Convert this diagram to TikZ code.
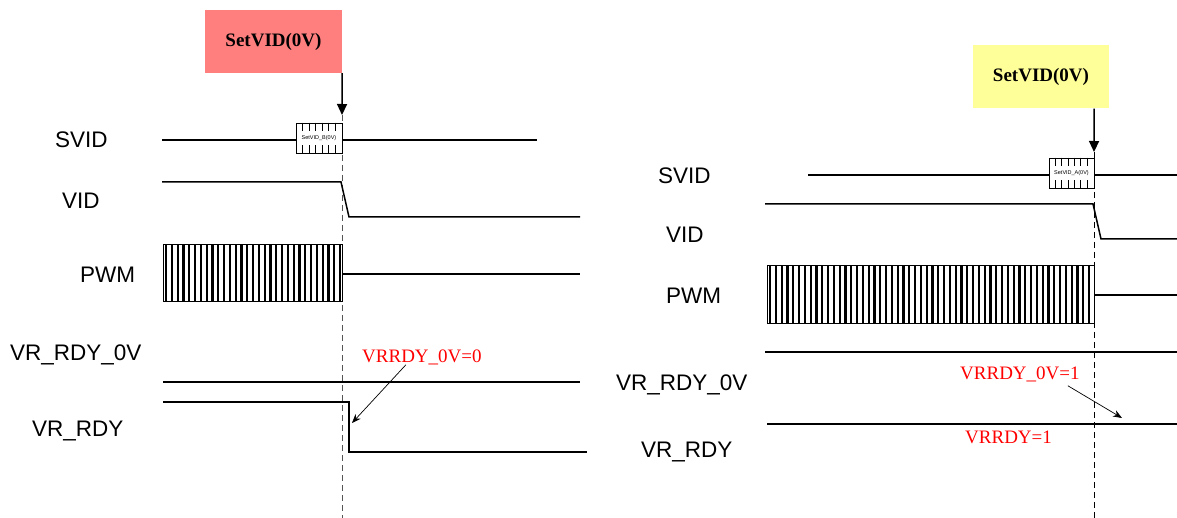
\documentclass[tikz,border=0pt]{standalone}
\usepackage{fontspec}
\setmainfont{Liberation Serif}
\setsansfont{Liberation Sans}
\usetikzlibrary{arrows.meta}
\tikzset{>={Stealth[length=9pt,width=7pt]}}
\definecolor{cmdred}{HTML}{FF7F7F}
\definecolor{cmdyellow}{HTML}{FFFF99}
\definecolor{markgray}{HTML}{555555}

\begin{document}
\begin{tikzpicture}[x=1pt,y=-1pt]

\tikzstyle{sig}=[line width=1.5pt]
\tikzstyle{siglab}=[anchor=west,inner sep=0pt,font=\sffamily\fontsize{22.5}{26}\selectfont]
\tikzstyle{note}=[anchor=west,inner sep=0pt,text=red,font=\fontsize{19}{22}\selectfont]
\tikzstyle{cmd}=[minimum height=63pt,font=\bfseries\fontsize{19}{22}\selectfont]
\tikzstyle{svidbox}=[draw,line width=0.8pt,fill=white,minimum height=30pt,inner sep=0pt,
                     font=\sffamily\fontsize{5.5}{6}\selectfont]
\tikzstyle{edge}=[line width=0.9pt,dash pattern=on 6pt off 4pt]
\tikzstyle{cmdarrow}=[line width=1.5pt,-{Triangle[length=11pt,width=10pt]}]

\useasboundingbox (0,0) rectangle (1177,518);

%% left: SetVID_B
\node[siglab] (svidB) at (55,140) {SVID};
\node[siglab] (vidB)  at (62,201) {VID};
\node[siglab] (pwmB)  at (80,275) {PWM};
\node[siglab] (rdy0B) at (10,355) {VR\_RDY\_0V};
\node[siglab] (rdyB)  at (32,431) {VR\_RDY};

\node[cmd,fill=cmdred,minimum width=137pt] (boxB) at (273.5,41.5) {SetVID(0V)};
\coordinate (markB) at (342,115);
\draw[edge,markgray] (markB) -- (342,518);
\draw[cmdarrow] (boxB.south east) -- (markB);

\draw[sig] (162,140) -- (296,140);
\draw[sig] (342,140) -- (537,140);
\node[svidbox,minimum width=46pt] (cmdB) at (319,138) {SetVID\_B(0V)};
\foreach \i in {1,...,6}{
  \draw[line width=0.6pt] ([xshift=\i*6.6pt]cmdB.north west) -- ++(0,8);
  \draw[line width=0.6pt] ([xshift=\i*6.6pt]cmdB.south west) -- ++(0,-8);
}

\draw[sig] (162,182) -- (341,182) -- (349,217) -- (580,217);

\draw[line width=1pt] (163,245) rectangle (342,302);
\foreach \x in {166,171.8,...,341}
  \draw[line width=2.2pt] (\x,245) -- (\x,302);
\draw[sig] (342,274) -- (580,274);

\draw[sig] (163,382) -- (580,382);
\draw[sig] (163,402) -- (349,402) -- (349,452) -- (587,452);

\node[note] (vr0B) at (362,357) {VRRDY\_0V=0};
\coordinate (tipB) at (352,423);
\draw[line width=0.7pt,->] ([xshift=-16pt]vr0B.south) -- (tipB);

%% right: SetVID_A
\node[siglab] (svidA) at (658,176) {SVID};
\node[siglab] (vidA)  at (666,235) {VID};
\node[siglab] (pwmA)  at (666,296) {PWM};
\node[siglab] (rdy0A) at (616,385) {VR\_RDY\_0V};
\node[siglab] (rdyA)  at (641,452) {VR\_RDY};

\node[cmd,fill=cmdyellow,minimum width=136pt] (boxA) at (1041,77) {SetVID(0V)};
\coordinate (markA) at (1094,152);
\draw[edge] (markA) -- (1094,518);
\draw[cmdarrow] ([xshift=-15pt]boxA.south east) -- (markA);

\draw[sig] (808,175) -- (1049,175);
\draw[sig] (1094,175) -- (1177,175);
\node[svidbox,minimum width=45pt] (cmdA) at (1071.5,173) {SetVID\_A(0V)};
\foreach \i in {1,...,6}{
  \draw[line width=0.6pt] ([xshift=\i*6.4pt]cmdA.north west) -- ++(0,8);
  \draw[line width=0.6pt] ([xshift=\i*6.4pt]cmdA.south west) -- ++(0,-8);
}

\draw[sig] (765,204) -- (1093,204) -- (1101,239) -- (1177,239);

\draw[line width=1pt] (767,266) rectangle (1094,324);
\foreach \x in {770,775.8,...,1093}
  \draw[line width=2.2pt] (\x,266) -- (\x,324);
\draw[sig] (1094,295) -- (1177,295);

\draw[sig] (765,352) -- (1177,352);
\draw[sig] (767,424) -- (1177,424);

\node[note] (vr0A) at (960,374) {VRRDY\_0V=1};
\node[note] (vrA)  at (965,437) {VRRDY=1};
\coordinate (tipA) at (1122,418);
\draw[line width=0.7pt,->] ([xshift=-12pt,yshift=-4pt]vr0A.south east) -- (tipA);

\end{tikzpicture}
\end{document}
